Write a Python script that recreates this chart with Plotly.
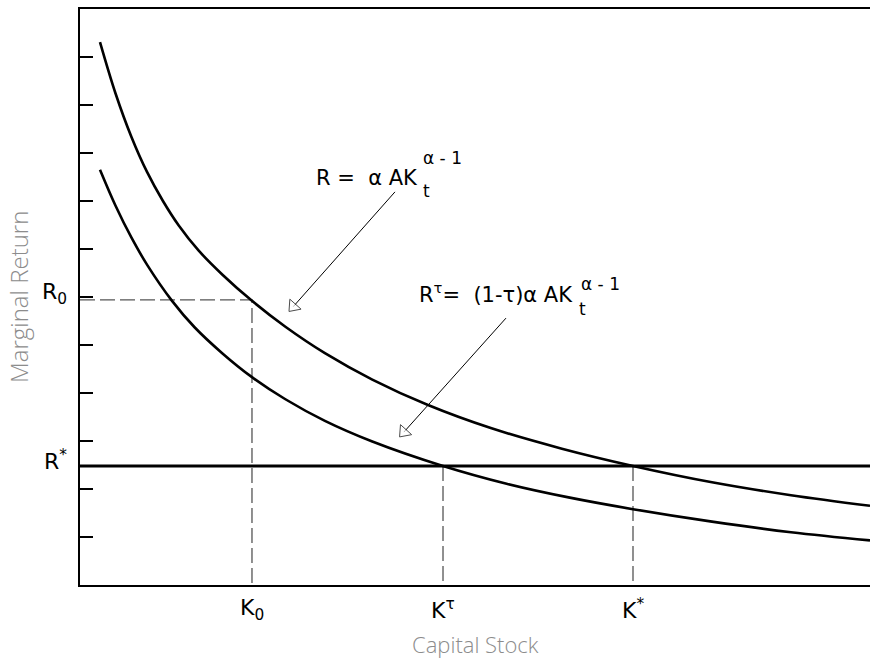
import plotly.graph_objects as go

# ---- data ----
k_pre = [0.253, 0.45, 0.65, 0.85, 1.05, 1.25, 1.5, 1.8, 2.177, 2.6, 3.1, 3.7, 4.405, 5.2, 6.1, 7.0, 8.0, 9.0, 10.0]
r_pre = [11.31, 10.24, 9.34, 8.60, 8.00, 7.49, 6.97, 6.47, 5.92, 5.38, 4.83, 4.28, 3.75, 3.27, 2.84, 2.48, 2.14, 1.87, 1.65]

k_post = [0.253, 0.45, 0.65, 0.85, 1.165, 1.45, 1.8, 2.177, 2.6, 3.1, 3.7, 4.595, 5.4, 6.2, 7.0, 8.0, 9.0, 10.0]
r_post = [8.65, 7.90, 7.24, 6.67, 5.92, 5.37, 4.83, 4.33, 3.87, 3.42, 2.99, 2.48, 2.11, 1.82, 1.58, 1.32, 1.10, 0.93]

R_STAR = 2.48
R_0 = 5.94
K_0 = 2.177
K_TAU = 4.595
K_STAR = 7.0
X_MAX = 10.0
Y_MAX = 12.0
y_ticks = list(range(0, 13))

x_labels = ["K<sub>0</sub>", "K<sup>τ</sup>", "K<sup>*</sup>"]
y_labels = ["R<sub>0</sub>", "R<sup>*</sup>"]

fig = go.Figure()

dash_style = dict(color="#555555", width=1.3, dash="15px,5px")

# dashed guides
fig.add_trace(go.Scatter(x=[0, K_0, K_0], y=[R_0, R_0, 0], mode="lines", line=dash_style, hoverinfo="skip"))
fig.add_trace(go.Scatter(x=[K_TAU, K_TAU], y=[R_STAR, 0], mode="lines", line=dash_style, hoverinfo="skip"))
fig.add_trace(go.Scatter(x=[K_STAR, K_STAR], y=[R_STAR, 0], mode="lines", line=dash_style, hoverinfo="skip"))

# R* line
fig.add_trace(go.Scatter(x=[0, X_MAX], y=[R_STAR, R_STAR], mode="lines",
                         line=dict(color="black", width=3), hoverinfo="skip"))

# curves
fig.add_trace(go.Scatter(x=k_pre, y=r_pre, mode="lines",
                         line=dict(color="black", width=2.6, shape="spline", smoothing=1.0), hoverinfo="skip"))
fig.add_trace(go.Scatter(x=k_post, y=r_post, mode="lines",
                         line=dict(color="black", width=2.6, shape="spline", smoothing=1.0), hoverinfo="skip"))

# arrows: thin line ending in a white, black-outlined triangle pointing along the line
for (x0, y0, x1, y1) in [(3.987, 8.19, 2.70, 5.80), (5.392, 5.56, 4.10, 3.186)]:
    fig.add_trace(go.Scatter(
        x=[x0, x1], y=[y0, y1], mode="lines+markers",
        line=dict(color="black", width=1),
        marker=dict(symbol=["circle", "triangle-up"], size=[0, 13],
                    angleref="previous", color="white",
                    line=dict(color="black", width=1)),
        hoverinfo="skip"))

FAM = "DejaVu Sans"
lab_font = dict(family=FAM, size=22, color="black")
annotations = []
# x labels
for xv, txt in zip([K_0, K_TAU, K_STAR], x_labels):
    annotations.append(dict(x=xv, y=0, xref="x", yref="y", text=txt, showarrow=False,
                            xanchor="center", yanchor="top", yshift=-8, font=lab_font))
# y labels
for yv, txt in zip([R_0, R_STAR], y_labels):
    annotations.append(dict(x=0, y=yv, xref="x", yref="y", text=txt, showarrow=False,
                            xanchor="right", yanchor="middle", xshift=-11, yshift=6, font=lab_font))

f_main = dict(family=FAM, size=21, color="black")
f_small = dict(family=FAM, size=17, color="black")
nb = "\u00a0"
sup_txt = "α" + nb + "-" + nb + "1"
# formula 1
annotations.append(dict(x=4.3, y=8.48, xref="x", yref="y", text="R" + nb + "=" + nb*2 + "α" + nb + "AK",
                        showarrow=False, xanchor="right", yanchor="middle", font=f_main))
annotations.append(dict(x=4.3, y=8.21, xref="x", yref="y", text="t", showarrow=False,
                        xanchor="left", yanchor="middle", xshift=1, font=f_small))
annotations.append(dict(x=4.3, y=8.9, xref="x", yref="y", text=sup_txt, showarrow=False,
                        xanchor="left", yanchor="middle", xshift=1, font=f_small))
# formula 2
annotations.append(dict(x=6.266, y=6.08, xref="x", yref="y",
                        text="R<sup>τ</sup>=" + nb*2 + "(1-τ)α" + nb + "AK",
                        showarrow=False, xanchor="right", yanchor="middle", font=f_main))
annotations.append(dict(x=6.266, y=5.75, xref="x", yref="y", text="t", showarrow=False,
                        xanchor="left", yanchor="middle", xshift=2, font=f_small))
annotations.append(dict(x=6.266, y=6.27, xref="x", yref="y", text=sup_txt, showarrow=False,
                        xanchor="left", yanchor="middle", xshift=4, font=f_small))

# axis titles
title_font = dict(family="Open Sans", size=22, color="#8c8c8c", weight=300)
annotations.append(dict(x=0.5, y=0, xref="paper", yref="paper", text="Capital Stock", showarrow=False,
                        xanchor="center", yanchor="middle", yshift=-59, font=title_font))
annotations.append(dict(x=0, y=0.5, xref="paper", yref="paper", text="Marginal Return", showarrow=False,
                        xanchor="center", yanchor="middle", xshift=-62, textangle=-90,
                        font=dict(title_font, size=24)))

fig.update_layout(
    width=870, height=658,
    margin=dict(l=80, r=0, t=9, b=73),
    paper_bgcolor="white", plot_bgcolor="white",
    showlegend=False,
    annotations=annotations,
    xaxis=dict(range=[0, X_MAX], showgrid=False, zeroline=False, showline=True,
               linecolor="black", linewidth=2, mirror=True, ticks="", showticklabels=False),
    yaxis=dict(range=[0, Y_MAX], showgrid=False, zeroline=False, showline=True,
               linecolor="black", linewidth=2, ticks="inside", tickvals=y_ticks,
               ticklen=13, tickwidth=2, tickcolor="black", showticklabels=False),
)

fig.write_html("out.html", config={"displayModeBar": False},
               post_script="document.body.style.margin='0';document.body.style.overflow='hidden';")
